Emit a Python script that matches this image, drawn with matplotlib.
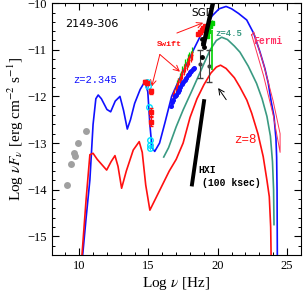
import numpy as np
import matplotlib
matplotlib.use('Agg')
import matplotlib.pyplot as plt
from matplotlib.ticker import MultipleLocator

plt.rcParams['mathtext.fontset'] = 'stix'
plt.rcParams['font.family'] = 'Liberation Serif'

# model SEDs (log nu, log nuFnu)
blue_x = [10.25, 10.5, 10.77, 11.0, 11.2, 11.37, 11.6, 12.0, 12.27, 12.6, 12.94, 13.2, 13.47,
          13.7, 14.0, 14.4, 14.74, 14.95, 15.1, 15.25, 15.45, 15.8, 16.2, 16.67, 17.2, 17.7,
          18.25, 18.7, 19.15, 19.6, 20.1, 20.6, 21.0, 21.5, 22.09, 22.6, 23.05, 23.4, 23.65,
          23.85, 24.06, 24.2, 24.25, 24.28, 24.3]
blue_y = [-15.4, -14.6, -13.79, -12.6, -12.05, -11.97, -12.05, -12.28, -12.33, -12.1, -12.0, -12.3,
          -12.7, -12.5, -12.15, -11.85, -11.68, -11.9, -12.6, -13.1, -13.18, -13.0, -12.55, -12.0,
          -11.65, -11.35, -11.0, -10.73, -10.5, -10.27, -10.12, -10.07, -10.12, -10.22, -10.36,
          -10.65, -11.05, -11.4, -11.72, -12.1, -12.43, -12.9, -13.3, -14.0, -15.4]

teal_x = [16.1, 16.45, 17.0, 17.5, 18.1, 18.7, 19.45, 19.9, 20.28, 20.7, 21.2, 21.6, 22.2, 22.8,
          23.2, 23.55, 23.8, 23.95, 24.03, 24.06]
teal_y = [-13.3, -13.1, -12.65, -12.29, -11.9, -11.5, -11.0, -10.8, -10.73, -10.78, -10.92, -11.05,
          -11.35, -11.72, -12.05, -12.43, -12.85, -13.4, -14.0, -14.75]

red_x = [10.2, 10.5, 10.77, 11.0, 11.3, 11.98, 12.3, 12.58, 12.8, 13.06, 13.4, 13.9, 14.33, 14.55,
         14.8, 15.1, 15.5, 16.0, 16.5, 17.0, 17.5, 18.0, 18.5, 19.0, 19.5, 19.9, 20.2, 20.6, 21.2,
         21.6, 22.1, 22.45, 22.9, 23.28, 23.55, 23.72, 23.82, 23.85]
red_y = [-15.4, -14.2, -13.25, -13.22, -13.35, -13.58, -13.4, -13.27, -13.5, -13.97, -13.6, -13.15,
         -12.97, -13.2, -13.9, -14.44, -14.2, -13.9, -13.6, -13.35, -13.0, -12.45, -12.05, -11.75,
         -11.5, -11.37, -11.33, -11.4, -11.6, -11.8, -12.08, -12.36, -12.8, -13.29, -13.8, -14.15,
         -14.8, -15.4]

# archival radio/IR points
grey_x = [9.1, 9.4, 9.65, 9.68, 9.9, 10.5]
grey_y = [-13.9, -13.45, -13.22, -13.28, -13.0, -12.75]

# UVOT
cyan_x = [14.87, 14.98, 15.03, 15.1, 15.1, 15.12]
cyan_y = [-11.68, -11.78, -12.22, -12.93, -13.04, -13.1]
uvr_x = [14.76, 14.92, 15.18, 15.18, 15.18]
uvr_y = [-11.68, -11.72, -11.89, -12.33, -12.54]
uvr_err = [0.03, 0.03, 0.05, 0.08, 0.1]

# X-ray spectra
xr_x = [16.75, 16.85, 16.95, 17.05, 17.15, 17.25, 17.35, 17.45, 17.55, 17.65, 17.75, 17.85, 17.95,
        18.05, 18.15]
xr_y = [-12.0, -11.95, -11.85, -11.8, -11.7, -11.66, -11.57, -11.52, -11.45, -11.38, -11.33, -11.26,
        -11.22, -11.16, -11.12]
xg_x = [16.95, 17.05, 17.15, 17.25, 17.35, 17.45, 17.55, 17.65, 17.75, 17.85, 17.95, 18.05, 18.12]
xg_y = [-11.85, -11.75, -11.7, -11.6, -11.55, -11.45, -11.4, -11.3, -11.27, -11.2, -11.15, -11.12,
        -11.05]
xb_x = [16.62, 16.72, 16.8, 16.9, 16.98, 17.1, 17.2, 17.3, 17.42, 17.5, 17.62, 17.7, 17.82, 17.9,
        18.02, 18.1, 18.2, 18.28]
xb_y = [-12.2, -12.12, -12.08, -12.0, -11.98, -11.9, -11.86, -11.8, -11.74, -11.7, -11.64, -11.6,
        -11.55, -11.52, -11.48, -11.46, -11.42, -11.4]

# hard X-ray
hr_x = [18.6, 18.72, 18.85, 18.97, 19.1]
hr_y = [-10.66, -10.62, -10.57, -10.53, -10.5]
hg_x = [19.2, 19.3, 19.42, 19.55]
hg_y = [-10.7, -10.6, -10.5, -10.42]
bk_x = [18.88, 18.93, 18.98, 18.85]
bk_y = [-10.76, -10.86, -10.95, -11.15]
bke_x = [18.72, 19.4]
bke_y = [-11.3, -11.34]
bke_err = [0.3, 0.34]

# sensitivities
sgd_x = [18.95, 19.8]
sgd_y = [-10.93, -9.8]
hxi_x = [18.12, 19.03]
hxi_y = [-13.93, -12.06]

# Fermi butterfly
fermi_x = [22.45, 23.3, 24.0, 24.5, 24.5, 24.0, 23.3, 22.6, 22.45]
fermi_y = [-10.68, -11.55, -12.4, -13.2, -12.8, -12.1, -11.3, -10.62, -10.68]

fig = plt.figure(figsize=(3.03, 2.90), dpi=100)
ax = fig.add_axes([0.170, 0.121, 0.823, 0.868])

ax.plot(blue_x, blue_y, color='#1010ff', lw=1.2, zorder=3)
ax.plot(teal_x, teal_y, color='#3a9a82', lw=1.2, zorder=3)
ax.plot(red_x, red_y, color='#ff1010', lw=1.2, zorder=3)
ax.plot(fermi_x, fermi_y, color='#ff3355', lw=0.7, zorder=3)

ax.plot(grey_x, grey_y, 'o', color='#a0a0a0', ms=5, mec='none', zorder=4)

ax.errorbar(cyan_x, cyan_y, yerr=0.05, fmt='o', mfc='none', mec='#00e0ff', ecolor='#00e0ff',
            ms=4, mew=1.0, elinewidth=0.8, zorder=4)
ax.errorbar(uvr_x, uvr_y, yerr=uvr_err, fmt='s', color='#ff1010', ms=3, elinewidth=0.8,
            capsize=1.2, zorder=5)

ax.errorbar(xg_x, xg_y, xerr=0.06, yerr=0.1, fmt='none', ecolor='#00d000', elinewidth=0.9, zorder=4)
ax.errorbar(xr_x, xr_y, xerr=0.06, yerr=0.1, fmt='none', ecolor='#ff1010', elinewidth=0.9, zorder=5)
ax.plot(xb_x, xb_y, 'o', color='#1010ff', ms=2.6, zorder=6)

ax.errorbar(hr_x, hr_y, yerr=0.04, fmt='s', color='#ff1010', ms=2.5, elinewidth=0.8, zorder=5)
ax.errorbar(hg_x, hg_y, yerr=0.05, fmt='s', color='#00d000', ms=2.5, elinewidth=0.8, zorder=5)
ax.errorbar([19.56], [-10.6], yerr=[[0.83], [0.03]], fmt='none', ecolor='#00d000', elinewidth=1.2, zorder=5)
ax.plot(bk_x, bk_y, 'o', color='black', ms=2.5, zorder=6)
ax.errorbar(bke_x, bke_y, yerr=bke_err, fmt='o', color='#404040', ms=2, elinewidth=0.8,
            capsize=2, zorder=4)

ax.plot(sgd_x, sgd_y, color='black', lw=3.2, solid_capstyle='butt', zorder=6)
ax.plot(hxi_x, hxi_y, color='black', lw=2.8, solid_capstyle='butt', zorder=6)

# arrows
arr = dict(arrowstyle='->', color='#ff1010', lw=0.7, shrinkA=0, shrinkB=0)
ax.annotate('', xy=(15.23, -11.79), xytext=(15.82, -11.1), arrowprops=arr)
ax.annotate('', xy=(17.27, -11.47), xytext=(15.82, -11.1), arrowprops=arr)
ax.annotate('', xy=(18.95, -10.42), xytext=(17.05, -10.64), arrowprops=arr)
ax.annotate('', xy=(20.03, -11.82), xytext=(20.61, -12.07),
            arrowprops=dict(arrowstyle='->', color='black', lw=0.7, shrinkA=0, shrinkB=0))

# labels
ax.text(8.97, -10.44, '2149-306', fontsize=8, family='DejaVu Sans', va='center')
ax.text(18.07, -10.2, 'SGD', fontsize=7.5, family='DejaVu Sans', va='center')
ax.text(9.55, -11.64, 'z=2.345', fontsize=7.5, family='Liberation Mono', color='#1010ff', va='center')
ax.text(19.8, -10.64, 'z=4.5', fontsize=6.5, family='Liberation Mono', color='#3a9a82',
        va='center', fontweight='bold')
ax.text(22.56, -10.82, 'Fermi', fontsize=7, family='Liberation Mono', color='#ff3366',
        va='center', fontweight='bold')
ax.text(15.6, -10.89, 'Swift', fontsize=6, family='Liberation Mono', color='#ff1010',
        va='center', fontweight='bold')
ax.text(21.2, -12.93, 'z=8', fontsize=9, family='Liberation Mono', color='#ff1010', va='center')
ax.text(18.6, -13.57, 'HXI', fontsize=7, family='Liberation Mono', va='center', fontweight='bold')
ax.text(18.84, -13.86, '(100 ksec)', fontsize=7, family='Liberation Mono', va='center',
        fontweight='bold')

ax.set_xlim(8, 26)
ax.set_ylim(-15.4, -10)
ax.xaxis.set_major_locator(MultipleLocator(5))
ax.xaxis.set_minor_locator(MultipleLocator(1))
ax.yaxis.set_major_locator(MultipleLocator(1))
ax.yaxis.set_minor_locator(MultipleLocator(0.2))
ax.tick_params(which='both', direction='in', top=True, right=True, labelsize=9)
ax.tick_params(which='major', length=5, width=0.8)
ax.tick_params(which='minor', length=2.5, width=0.7)
for s in ax.spines.values():
    s.set_linewidth(0.8)

ax.set_xlabel(r'Log $\nu$ [Hz]', fontsize=11, labelpad=2)
ax.set_ylabel(r'Log $\nu F_\nu$ [erg cm$^{-2}$ s$^{-1}$]', fontsize=11, labelpad=1)

fig.savefig('out.png', dpi=100)
